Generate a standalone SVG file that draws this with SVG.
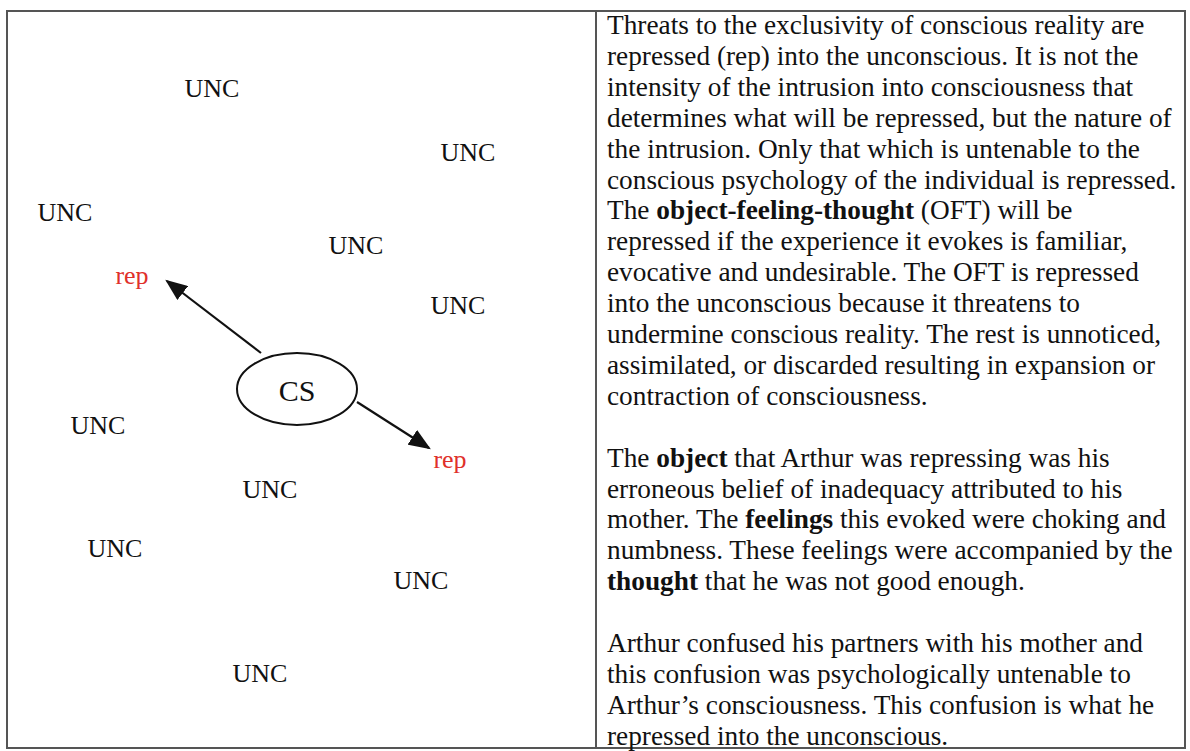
<svg xmlns="http://www.w3.org/2000/svg" width="1190" height="751" viewBox="0 0 1190 751">
<defs>
<style>
.unc{font-family:"Liberation Serif","Times New Roman",serif;font-size:26px;fill:#111;text-anchor:middle}
.rep{font-family:"Liberation Serif","Times New Roman",serif;font-size:26px;fill:#e0302a;text-anchor:middle}
.cs{font-family:"Liberation Serif","Times New Roman",serif;font-size:30px;fill:#111;text-anchor:middle}
.body{font-family:"Liberation Serif","Times New Roman",serif;font-size:27.3px;fill:#111}
.b{font-weight:bold}
.frame{fill:none;stroke:#555;stroke-width:2}
.conn{stroke:#111;stroke-width:2.2;fill:none}
</style>
<marker id="ah" markerWidth="10" markerHeight="8" refX="9" refY="4" orient="auto" markerUnits="strokeWidth">
<path d="M0,0 L10,4 L0,8 Z" fill="#111"/>
</marker>
</defs>
<rect width="1190" height="751" fill="#fff"/>
<g id="frame">
<rect class="frame" x="7" y="11" width="1178" height="737"/>
<line class="frame" x1="596" y1="11" x2="596" y2="748"/>
</g>
<g id="connectors">
<line class="conn" x1="261" y1="353" x2="167" y2="281" marker-end="url(#ah)"/>
<line class="conn" x1="357" y1="402" x2="429" y2="448" marker-end="url(#ah)"/>
</g>
<g id="node-cs">
<ellipse cx="297" cy="389" rx="60" ry="36" fill="#fff" stroke="#111" stroke-width="2"/>
<text class="cs" x="297" y="401">CS</text>
</g>
<g id="node-rep1"><text class="rep" x="132" y="284">rep</text></g>
<g id="node-rep2"><text class="rep" x="450" y="468">rep</text></g>
<g id="node-unc1"><text class="unc" x="212" y="97">UNC</text></g>
<g id="node-unc2"><text class="unc" x="468" y="161">UNC</text></g>
<g id="node-unc3"><text class="unc" x="65" y="221">UNC</text></g>
<g id="node-unc4"><text class="unc" x="356" y="254">UNC</text></g>
<g id="node-unc5"><text class="unc" x="458" y="314">UNC</text></g>
<g id="node-unc6"><text class="unc" x="98" y="434">UNC</text></g>
<g id="node-unc7"><text class="unc" x="270" y="498">UNC</text></g>
<g id="node-unc8"><text class="unc" x="115" y="557">UNC</text></g>
<g id="node-unc9"><text class="unc" x="421" y="589">UNC</text></g>
<g id="node-unc10"><text class="unc" x="260" y="682">UNC</text></g>
<g id="text-panel">
<text class="body" x="607" y="34">Threats to the exclusivity of conscious reality are</text>
<text class="body" x="607" y="64.9">repressed (rep) into the unconscious. It is not the</text>
<text class="body" x="607" y="95.8">intensity of the intrusion into consciousness that</text>
<text class="body" x="607" y="126.7">determines what will be repressed, but the nature of</text>
<text class="body" x="607" y="157.6">the intrusion. Only that which is untenable to the</text>
<text class="body" x="607" y="188.5">conscious psychology of the individual is repressed.</text>
<text class="body" x="607" y="219.4">The <tspan class="b">object-feeling-thought</tspan> (OFT) will be</text>
<text class="body" x="607" y="250.3">repressed if the experience it evokes is familiar,</text>
<text class="body" x="607" y="281.2">evocative and undesirable. The OFT is repressed</text>
<text class="body" x="607" y="312.1">into the unconscious because it threatens to</text>
<text class="body" x="607" y="343">undermine conscious reality. The rest is unnoticed,</text>
<text class="body" x="607" y="373.9">assimilated, or discarded resulting in expansion or</text>
<text class="body" x="607" y="404.8">contraction of consciousness.</text>
<text class="body" x="607" y="466.6">The <tspan class="b">object</tspan> that Arthur was repressing was his</text>
<text class="body" x="607" y="497.5">erroneous belief of inadequacy attributed to his</text>
<text class="body" x="607" y="528.4">mother. The <tspan class="b">feelings</tspan> this evoked were choking and</text>
<text class="body" x="607" y="559.3">numbness. These feelings were accompanied by the</text>
<text class="body" x="607" y="590.2"><tspan class="b">thought</tspan> that he was not good enough.</text>
<text class="body" x="607" y="652">Arthur confused his partners with his mother and</text>
<text class="body" x="607" y="682.9">this confusion was psychologically untenable to</text>
<text class="body" x="607" y="713.8">Arthur’s consciousness. This confusion is what he</text>
<text class="body" x="607" y="744.7">repressed into the unconscious.</text>
</g>
</svg>
